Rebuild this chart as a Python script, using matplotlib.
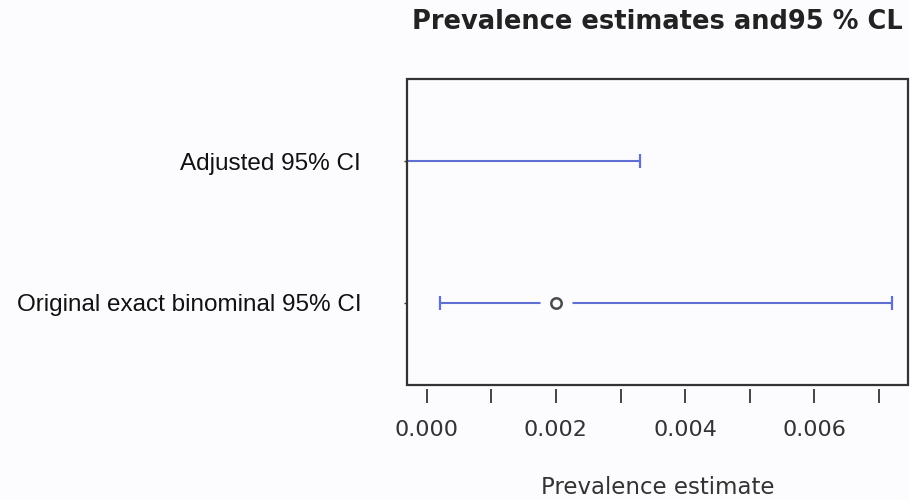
import matplotlib.pyplot as plt
from matplotlib.patches import Rectangle

# prevalence estimates with 95% intervals
labels = ['Original exact binominal 95% CI', 'Adjusted 95% CI']
estimates = [0.0020, None]
lower = [0.0002, -0.0006]
upper = [0.0072, 0.0033]

x_ticks = [0.000, 0.001, 0.002, 0.003, 0.004, 0.005, 0.006, 0.007]
x_ticklabels = ['0.000', '', '0.002', '', '0.004', '', '0.006', '']

line_col = '#5f6fd2'

fig = plt.figure(figsize=(9.1, 5.0), dpi=100)
fig.patch.set_facecolor('#fcfcfe')
ax = fig.add_axes([407 / 910, 115 / 500, 501 / 910, 306 / 500])
ax.set_facecolor('#fcfcfe')

for i in range(len(labels)):
    ax.errorbar([(lower[i] + upper[i]) / 2], [i],
                xerr=[[(upper[i] - lower[i]) / 2]], fmt='none',
                ecolor=line_col, elinewidth=1.5, capsize=5, capthick=1.6, zorder=2)
    if estimates[i] is not None:
        # white halo around the point estimate, then the open circle
        ax.plot(estimates[i], i, 'o', ms=23, mfc='#fcfcfe', mec='none', zorder=3)
        ax.plot(estimates[i], i, 'o', ms=7.5, mfc='#fcfcfe', mec='#4a4a4a', mew=1.8, zorder=4)

ax.set_xlim(-0.000305, 0.00745)
ax.set_ylim(-0.58, 1.58)

ax.set_yticks(range(len(labels)))
ax.set_yticklabels(labels, family='Liberation Sans')
ax.tick_params(axis='y', length=2, width=1, pad=31, color='#333333',
               labelsize=17.5, labelcolor='#111111')

ax.set_xticks(x_ticks)
ax.set_xticklabels(x_ticklabels)
ax.tick_params(axis='x', length=10, width=1.4, pad=12, color='#444444',
               labelsize=16, labelcolor='#333333')

for s in ax.spines.values():
    s.set_visible(False)
ax.spines['bottom'].set_position(('outward', 3))
ax.add_patch(Rectangle((0, 0), 1, 1, transform=ax.transAxes, fill=False,
                       ec='#333333', lw=1.6, clip_on=False, zorder=5))

ax.set_xlabel('Prevalence estimate', fontsize=16.5, color='#333333', labelpad=26)
ax.set_title('Prevalence estimates and95 % CL', fontsize=18.5, fontweight='bold',
             color='#222222', pad=36)

fig.savefig('out.png', dpi=100, facecolor=fig.get_facecolor())
